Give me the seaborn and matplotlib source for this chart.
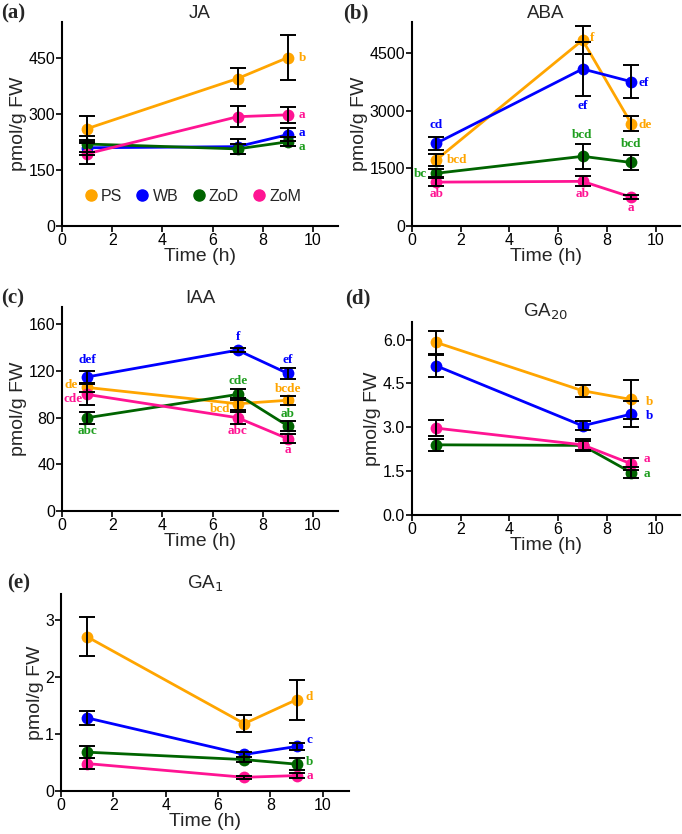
import numpy as np
import pandas as pd
import matplotlib
matplotlib.use("Agg")
import matplotlib.pyplot as plt
import seaborn as sns
from matplotlib.lines import Line2D

# ---- data ----
times = [1, 7, 9]
groups = ["PS", "WB", "ZoD", "ZoM"]

ja_mean = {"PS": [260, 394, 450], "WB": [209, 212, 244], "ZoD": [219, 206, 225], "ZoM": [193, 292, 297]}
ja_err = {"PS": [35, 27, 60], "WB": [20, 20, 18], "ZoD": [22, 14, 12], "ZoM": [28, 28, 22]}
ja_letters = {"PS": [None, None, "b"], "WB": [None, None, "a"], "ZoD": [None, None, "a"], "ZoM": [None, None, "a"]}

aba_mean = {"PS": [1720, 4830, 2660], "WB": [2150, 4080, 3750], "ZoD": [1370, 1810, 1650], "ZoM": [1140, 1160, 750]}
aba_err = {"PS": [160, 370, 200], "WB": [170, 700, 420], "ZoD": [100, 330, 200], "ZoM": [100, 130, 60]}
aba_letters = {"PS": ["bcd", "f", "de"], "WB": ["cd", "ef", "ef"], "ZoD": ["bc", "bcd", "bcd"], "ZoM": ["ab", "ab", "a"]}

iaa_mean = {"PS": [106, 92, 95], "WB": [115, 138, 118], "ZoD": [80, 100, 73], "ZoM": [100, 80, 62]}
iaa_err = {"PS": [4, 5, 4], "WB": [5, 2, 5], "ZoD": [5, 5, 4], "ZoM": [9, 5, 4]}
iaa_letters = {"PS": ["de", "bcd", "bcde"], "WB": ["def", "f", "ef"], "ZoD": ["abc", "cde", "ab"], "ZoM": ["cde", "abc", "a"]}

ga20_mean = {"PS": [5.9, 4.25, 3.95], "WB": [5.1, 3.05, 3.45], "ZoD": [2.4, 2.38, 1.45], "ZoM": [2.97, 2.4, 1.75]}
ga20_err = {"PS": [0.4, 0.2, 0.65], "WB": [0.37, 0.15, 0.45], "ZoD": [0.2, 0.15, 0.2], "ZoM": [0.28, 0.2, 0.2]}
ga20_letters = {"PS": [None, None, "b"], "WB": [None, None, "b"], "ZoD": [None, None, "a"], "ZoM": [None, None, "a"]}

ga1_mean = {"PS": [2.7, 1.18, 1.6], "WB": [1.28, 0.64, 0.78], "ZoD": [0.68, 0.55, 0.47], "ZoM": [0.48, 0.24, 0.27]}
ga1_err = {"PS": [0.34, 0.15, 0.35], "WB": [0.12, 0.05, 0.06], "ZoD": [0.1, 0.05, 0.1], "ZoM": [0.1, 0.03, 0.04]}
ga1_letters = {"PS": [None, None, "d"], "WB": [None, None, "c"], "ZoD": [None, None, "b"], "ZoM": [None, None, "a"]}

# ---- styling ----
palette = {"PS": "#FFA500", "WB": "#0000FF", "ZoD": "#006400", "ZoM": "#FF1493"}
letter_colors = {"PS": "#FFA500", "WB": "#0000FF", "ZoD": "#1E9E1E", "ZoM": "#FF1493"}

# letter offsets in pixels (dx right, dy down) relative to the point
offs_ja = {"PS": [(0, 0), (0, 0), (15, 0)], "WB": [(0, 0), (0, 0), (14, -2)],
           "ZoD": [(0, 0), (0, 0), (14, 5)], "ZoM": [(0, 0), (0, 0), (14, 0)]}
offs_aba = {"PS": [(21, 0), (10, -2), (14, 1)], "WB": [(0, -18), (0, 37), (12, 1)],
            "ZoD": [(-16, 1), (0, -21), (0, -18)], "ZoM": [(0, 12), (0, 13), (0, 11)]}
offs_iaa = {"PS": [(-16, -2), (-18, 5), (0, -11)], "WB": [(0, -17), (0, -13), (0, -13)],
            "ZoD": [(0, 13), (0, -13), (0, -12)], "ZoM": [(-14, 5), (0, 13), (0, 11)]}
offs_ga20 = {"PS": [(0, 0), (0, 0), (18, 3)], "WB": [(0, 0), (0, 0), (18, 2)],
             "ZoD": [(0, 0), (0, 0), (16, 1)], "ZoM": [(0, 0), (0, 0), (16, -5)]}
offs_ga1 = {"PS": [(0, 0), (0, 0), (13, -3)], "WB": [(0, 0), (0, 0), (13, -6)],
            "ZoD": [(0, 0), (0, 0), (13, -2)], "ZoM": [(0, 0), (0, 0), (13, 0)]}

sns.set_style("ticks")
plt.rcParams["font.family"] = ["Liberation Sans", "DejaVu Sans"]

W, H = 682, 834
fig = plt.figure(figsize=(W / 100, H / 100), dpi=100)


def add_ax(left, right_, top, bottom):
    return fig.add_axes([left / W, 1 - bottom / H, (right_ - left) / W, (bottom - top) / H])


def to_long(mean, err):
    rows = []
    for g in groups:
        for t, m, e in zip(times, mean[g], err[g]):
            rows.append({"time": t, "value": m, "err": e, "group": g})
    return pd.DataFrame(rows)


def draw_panel(ax, mean, err, letters, offs, ylim, yticks, yfmt, title, tag):
    df = to_long(mean, err)
    sns.lineplot(data=df, x="time", y="value", hue="group", hue_order=groups,
                 palette=palette, marker="o", markersize=8.5, markeredgewidth=0,
                 linewidth=2, errorbar=None, legend=False, ax=ax, zorder=3)
    for g in groups:
        d = df[df.group == g]
        ax.errorbar(d.time, d.value, yerr=d.err, fmt="none", ecolor="black",
                    elinewidth=1.4, capsize=6, capthick=1.4, zorder=4)
        for i, t in enumerate(times):
            lab = letters[g][i]
            if lab is None:
                continue
            dx, dy = offs[g][i]
            ax.annotate(lab, (t, mean[g][i]), xytext=(dx, -dy), textcoords="offset pixels",
                        ha="center", va="center", color=letter_colors[g],
                        fontsize=9.5, fontweight="bold", family="Liberation Serif",
                        zorder=5, annotation_clip=False)
    ax.set_xlim(0, 11)
    ax.set_ylim(*ylim)
    ax.set_xticks([0, 2, 4, 6, 8, 10])
    ax.set_yticks(yticks)
    ax.set_yticklabels([yfmt.format(v) for v in yticks])
    ax.set_xlabel("Time (h)", fontsize=14, labelpad=0)
    ax.set_ylabel("pmol/g FW", fontsize=14, labelpad=1)
    ax.set_title(title, fontsize=13.5, pad=3)
    ax.tick_params(axis="both", labelsize=11.5, colors="black", width=1.2, length=4, pad=1)
    for s in ["left", "bottom"]:
        ax.spines[s].set_linewidth(1.5)
        ax.spines[s].set_color("black")
    sns.despine(ax=ax)
    fig.text(tag[0] / W, 1 - tag[1] / H, tag[2], fontsize=15, fontweight="bold",
             family="Liberation Serif", ha="left", va="center")


ax_a = add_ax(62, 338, 22, 226)
draw_panel(ax_a, ja_mean, ja_err, ja_letters, offs_ja, (0, 545), [0, 150, 300, 450], "{:d}",
           "JA", (1, 13, "(a)"))
handles = [Line2D([], [], marker="o", linestyle="none", color=palette[g], markersize=8) for g in groups]
ax_a.legend(handles, groups, loc="center", bbox_to_anchor=(0.47, 0.145), ncol=4, frameon=False,
            fontsize=11.5, handletextpad=0.1, columnspacing=0.7, handlelength=1.1)

ax_b = add_ax(412, 680, 22, 226)
draw_panel(ax_b, aba_mean, aba_err, aba_letters, offs_aba, (0, 5300), [0, 1500, 3000, 4500], "{:d}",
           "ABA", (343, 13, "(b)"))

ax_c = add_ax(62, 338, 307, 511)
draw_panel(ax_c, iaa_mean, iaa_err, iaa_letters, offs_iaa, (0, 175), [0, 40, 80, 120, 160], "{:d}",
           "IAA", (1, 298, "(c)"))

ax_d = add_ax(412, 680, 322, 515)
draw_panel(ax_d, ga20_mean, ga20_err, ga20_letters, offs_ga20, (0, 6.6), [0, 1.5, 3.0, 4.5, 6.0], "{:.1f}",
           "GA$_{20}$", (345, 298, "(d)"))

ax_e = add_ax(61, 349, 594, 791)
draw_panel(ax_e, ga1_mean, ga1_err, ga1_letters, offs_ga1, (0, 3.45), [0, 1, 2, 3], "{:d}",
           "GA$_1$", (7, 583, "(e)"))

fig.savefig("out.png", dpi=100)
